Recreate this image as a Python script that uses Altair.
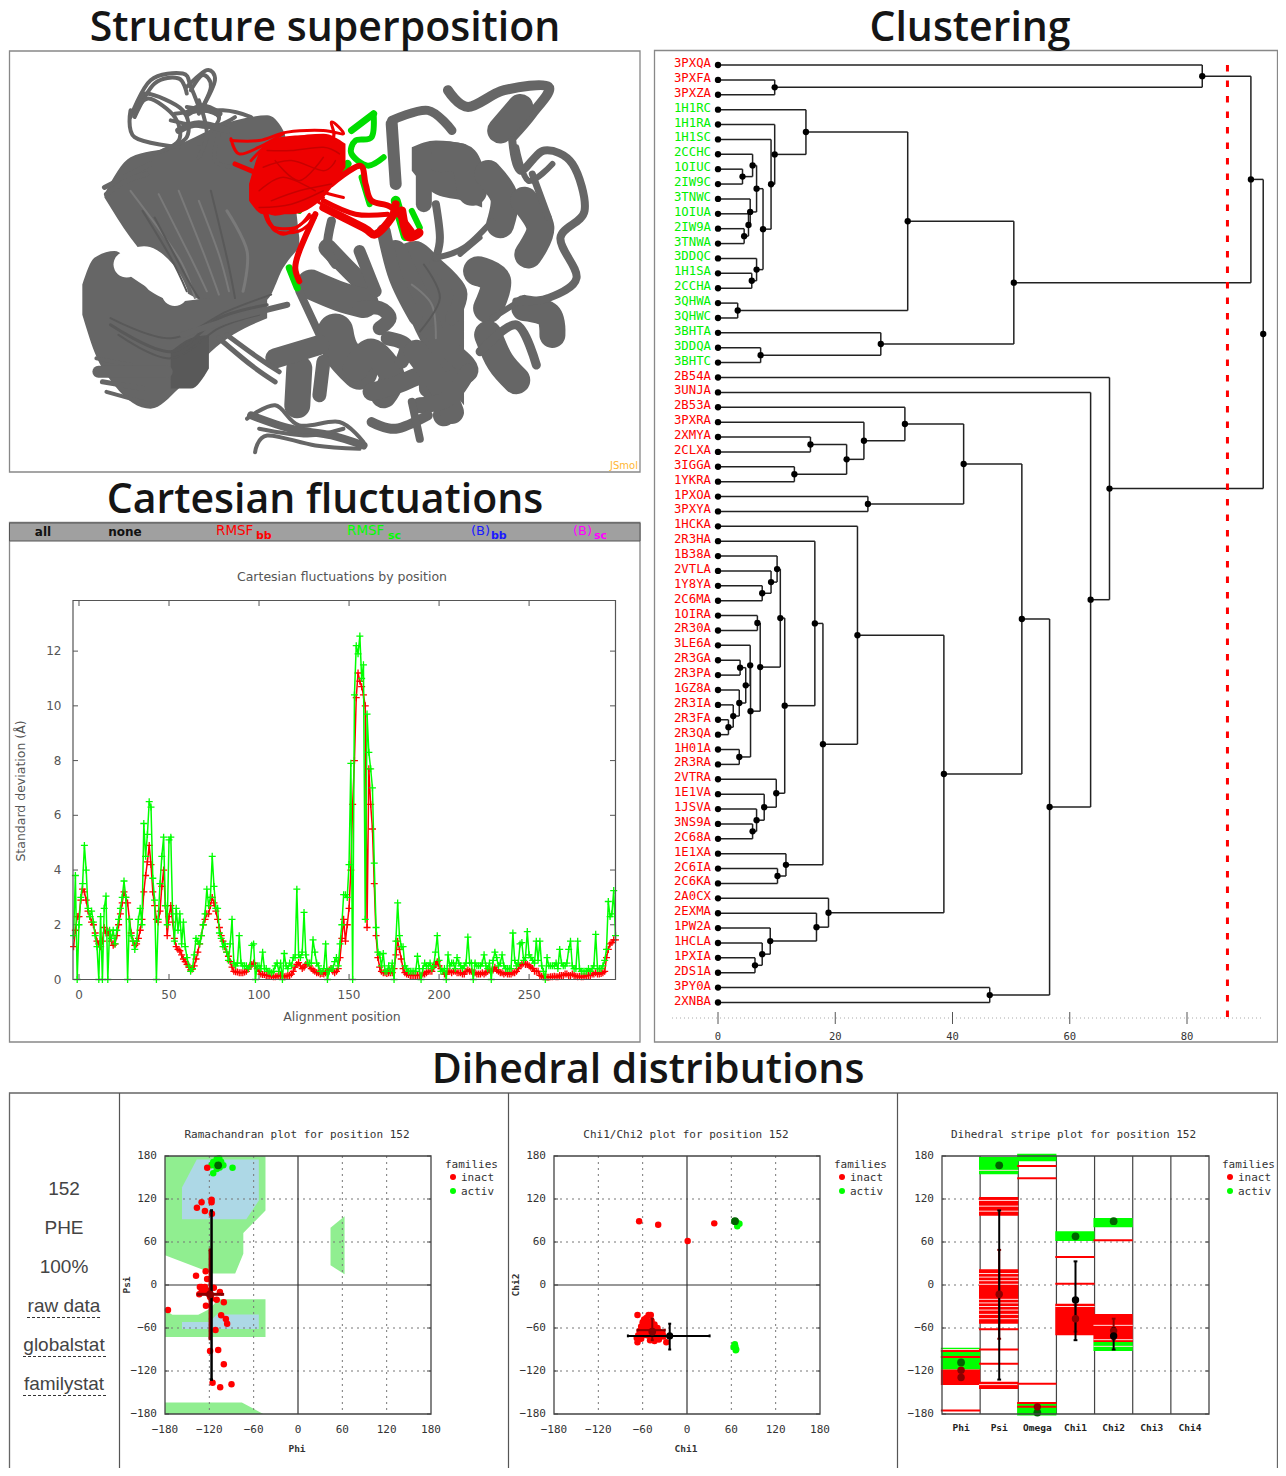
import altair as alt
import pandas as pd

CW, CH = 1270, 1460
RIGHT = CW + 7.5
MONO = "DejaVu Sans Mono"
RED, GREEN = "#ff0000", "#00ff00"

# ---------- fluctuation series (positions -3 .. 298) ----------
pos_start = -3
rmsf_bb = [
 1.2,1.8,2.3,2.3,2.9,3.3,3.2,2.9,2.5,2.3,
 2.1,2.0,1.7,1.4,1.3,1.2,1.4,1.9,1.7,1.75,
 1.6,1.4,1.25,1.3,1.6,2.0,2.4,2.8,3.2,3.0,
 2.8,2.2,1.7,1.4,1.25,1.3,1.5,1.8,2.2,3.2,
 3.8,4.3,4.9,4.2,3.2,2.7,2.2,2.1,2.5,3.4,
 4.0,2.7,1.6,2.3,2.7,2.1,1.5,1.2,1.1,1.05,
 .9,.75,.65,.55,.45,.35,.38,.5,.75,1.0,
 1.3,1.6,2.0,2.2,2.4,2.4,2.7,3.0,2.8,2.5,
 2.2,1.9,1.6,1.4,1.2,1.0,.85,.65,.45,.3,
 .28,.27,.25,.25,.25,.27,.3,.38,.5,.55,
 .6,.5,.4,.3,.2,.18,.18,.15,.15,.12,
 .12,.1,.1,.12,.15,.15,.13,.1,.12,.15,
 .15,.2,.3,.45,.55,.62,.5,.4,.45,.55,
 .6,.5,.4,.35,.3,.25,.25,.2,.22,.2,
 .25,.3,.35,.4,.3,.25,.3,.4,.8,1.5,
 2.2,1.4,2.0,2.6,4.0,6.4,8.0,10.3,11.2,10.9,
 10.7,10.4,10.0,1.9,7.7,6.4,5.5,3.5,1.6,.8,
 .45,.3,.25,.25,.22,.25,.25,.25,.4,.9,
 1.4,1.1,.75,.4,.25,.2,.18,.15,.15,.15,
 .15,.15,.15,.15,.2,.2,.25,.3,.3,.3,
 .45,.55,.65,.5,.4,.3,.2,.2,.3,.3,
 .25,.3,.3,.25,.25,.25,.2,.2,.3,.35,
 .3,.3,.25,.25,.2,.2,.2,.25,.2,.25,
 .3,.35,.3,.35,.45,.35,.3,.25,.25,.2,
 .25,.2,.2,.2,.25,.25,.3,.4,.5,.55,
 .6,.55,.55,.5,.45,.4,.3,.3,.3,.15,
 .12,.1,.1,.08,.08,.1,.1,.12,.1,.1,
 .15,.15,.15,.2,.2,.15,.15,.2,.15,.12,
 .1,.12,.1,.1,.12,.15,.15,.15,.2,.2,
 .25,.2,.2,.22,.25,.3,.8,1.1,1.3,1.35,
 1.45,1.45]
rmsf_sc = [
 1.6,3.8,0,2.0,3.0,3.5,4.9,4.0,2.6,2.3,
 2.5,2.1,1.6,1.2,0,2.3,0,2.6,3.05,0,
 1.8,1.5,1.8,1.3,1.8,2.2,2.6,3.0,3.6,3.0,
 0,2.2,1.6,1.4,1.1,1.4,2.2,2.6,2.0,5.7,
 4.5,5.3,6.5,6.3,3.7,2.9,0,2.2,3.5,4.5,
 5.2,2.7,2.0,5.1,5.2,2.4,1.4,2.6,1.8,2.4,
 1.3,2.1,1.2,.8,.5,.3,.4,.9,1.5,1.4,
 1.3,1.6,2.0,2.4,3.3,2.7,3.0,4.5,3.4,2.6,
 2.6,1.7,1.5,1.2,1.3,1.0,.7,1.3,2.2,.6,
 .5,.6,1.6,.6,.5,.5,.5,.4,.5,1.25,
 1.3,0,.5,.5,.4,1.0,.4,.4,.3,.3,
 .25,.3,.5,.6,.3,.6,0,.95,.5,.4,
 .6,.5,.8,.8,3.3,.9,.8,1.0,2.45,.9,
 .6,.6,.6,1.45,1.0,.6,.5,.3,.3,.4,
 1.3,0,.3,.4,.4,.65,.8,.5,1.3,2.0,
 3.1,3.1,3.0,4.2,7.9,0,10.4,12.2,11.9,12.55,
 11.0,11.5,2.2,9.7,8.3,7.7,7.0,4.25,1.9,1.0,
 .9,.5,.95,.3,.3,.5,.3,.6,0,1.4,
 2.8,1.6,1.2,1.2,.5,.4,.3,.3,.3,.3,
 .3,.85,.4,0,.4,.6,.5,.5,.6,.4,
 .5,1.0,1.6,.7,.3,.3,.4,0,.9,.5,
 .6,.6,.4,.8,.6,.5,.4,.5,.6,1.55,
 .6,.6,0,.6,.5,.5,.5,.6,.9,.5,
 .4,.6,0,.7,1.0,.8,.5,.6,.9,.5,
 .4,.4,.4,.4,1.7,.7,.5,.6,1.3,1.35,
 .7,.8,1.75,.9,.8,.7,.6,1.4,.7,1.4,
 .5,.3,0,.8,.5,.5,.5,.5,.6,.4,
 1.1,.6,.5,.5,.6,1.1,1.4,.5,.4,.4,
 1.4,.4,.3,.3,.3,.3,.4,.3,.4,.5,
 1.65,.4,.4,.4,.5,.7,1.1,2.85,2.3,2.4,
 3.25,1.6]
fluct_xticks = [0, 50, 100, 150, 200, 250]
fluct_yticks = [0, 2, 4, 6, 8, 10, 12]

# ---------- dendrogram: (merge height, child, child) ----------
tree = (93.0,
 (90.9,
  (82.6, "3PXQA", (9.67, "3PXFA", "3PXZA")),
  (50.46,
   (32.36,
    (15.0, "1H1RC", (9.67, "1H1RA", (9.05, "1H1SC", (7.68,
       (6.58, (5.9, "2CCHC", (4.18, "1OIUC", "2IW9C")),
              (5.49, "3TNWC", (5.2, "1OIUA", (4.46, "2IW9A", "3TNWA")))),
       (6.58, "3DDQC", (5.76, "1H1SA", "2CCHA")))))),
    (3.36, "3QHWA", "3QHWC")),
   (27.77, "3BHTA", (7.27, "3DDQA", "3BHTC")))),
 (66.78, "2B54A", (63.56, "3UNJA", (56.56,
   (51.83,
    (41.9,
     (31.88, "2B53A", (24.89, "3PXRA", (21.94, (15.77, "2XMYA", "2CLXA"), (13.03, "3IGGA", "1YKRA")))),
     (25.57, "1PXOA", "3PXYA")),
    (38.53,
     (23.79, "1HCKA", (17.9,
       (16.52, "2R3HA", (11.38,
         (10.63,
          (10.08, "1B38A", (9.05, "2VTLA", (7.54, "1Y8YA", "2C6MA"))),
          (7.2, (6.72, "1OIRA", "2R30A"),
           (5.55, (5.49, "3LE6A", (4.73, (3.77, "2R3GA", "2R3PA"),
                                   (3.63, "1GZ8A", (2.6, "2R3IA", (1.78, "2R3FA", "2R3QA"))))),
                  (3.63, "1H01A", "2R3RA")))),
         (9.94, "2VTRA", (7.88, "1E1VA", (6.58, "1JSVA", (5.9, "3NS9A", "2C68A")))))),
       (11.59, "1E1XA", (10.15, "2C6IA", "2C6KA")))),
     (18.85, "2A0CX", (16.8, "2EXMA", (8.91, "1PW2A", (7.54, "1HCLA", (6.31, "1PXIA", "2DS1A"))))))),
   (46.35, "3PY0A", "2XNBA")))))
green_leaves = ["1H1RC","1H1RA","1H1SC","2CCHC","1OIUC","2IW9C","3TNWC","1OIUA","2IW9A","3TNWA",
                "3DDQC","1H1SA","2CCHA","3QHWA","3QHWC","3BHTA","3DDQA","3BHTC"]
cut_height = 86.9
dendro_ticks = [0, 20, 40, 60, 80]

# ---------- Ramachandran ----------
ram_inact_phi = [-122.9,-130.5,-136.8,-126,-117,-117,-116.5,-138,-125,-123,-130.5,-132.8,-126,-113.9,-133.6,-130.5,-123.8,-121.5,-119,-117,-110,-105.7,-100.4,-124.6,-176,-104,-97.6,-95.9,-111.6,-119,-108,-100.4,-115.6,-105.3,-90]
ram_inact_psi = [163.7,115.4,107.9,103.3,119.1,115.4,99.5,13,19.1,8.4,-2.8,-2.8,-2.8,-3.7,-13,-9.8,-7.4,-12,-16.7,-19,-20.5,-9.8,-24.2,-28.8,-34.9,-42.3,-47.4,-54,-62.8,-92,-90.7,-110.7,-136.3,-142.8,-138.6]
ram_activ_phi = [-108,-114.75,-110,-106.6,-101,-88.6,-114.75,-117,-112.5,-104,-110,-106]
ram_activ_psi = [167,171.6,176,177,167,163.7,156,167,167,172,162,164]
ram_green = [
 ([-180,-115,-85,-74,-74,-44], [41.4,16,16,43.7,72.6,104], [180,180,180,180,180,180]),
 ([44,63], [27.4,15], [80,96]),
 ([-180,-170,-135,-119,-108,-44], [-72.6]*6, [-35,-41.4,-41.4,-33,-20,-20]),
 ([-180,-76,-47], [-180,-180,-180], [-164,-164,-180]),
]
ram_blue = [
 ([-157,-137,-70,-53], [91.6,91.6,91.6,118], [136,175,175,175]),
 ([-157,-120,-110,-53], [-61.4]*4, [-51.6,-51.6,-41,-41]),
]
# ---------- Chi1/Chi2 ----------
chi_inact_1 = [-64.8,-39,36.9,0.9,-67,-52,-49,-55,-58,-60,-54,-48,-44,-62,-56,-50,-40,-64,-57,-51,-45,-38,-33,-66,-60,-54,-48,-43,-37,-32,-68,-62,-50,-44,-38,-67,-28]
chi_inact_2 = [88.8,84.2,86,61.4,-42,-42,-42,-46,-48,-52,-52,-50,-55,-58,-58,-57,-60,-64,-64,-63,-62,-65,-68,-70,-70,-70,-71,-70,-72,-72,-74,-75,-77,-78,-76,-80,-80]
chi_activ_1 = [64.4,71,68,66.6,69,64.8,66.6,63,65.5,66]
chi_activ_2 = [89.3,85.6,82,88,86,-82.8,-90,-86.5,-86,-91]
angle_ticks = [-180,-120,-60,0,60,120,180]
# ---------- Stripe plot ----------
stripe_cols = ["Phi","Psi","Omega","Chi1","Chi2","Chi3","Chi4"]
stripe_green_rect = [(0,-118,-87.4),(1,154.4,178.6),(2,172.6,183),(2,-182,-165.6),(3,61.4,75),(4,80.5,93.5),(4,-92,-79.5)]
stripe_red_rect = [(0,-139.5,-118),(1,96.7,122.8),(1,-54,22),(1,-145,-135),(3,-70,-26),(4,-79.5,-40.5)]
stripe_red_rule = [(0,-92),(0,-100.4),(0,-175),(1,-61.8),(1,-90),(1,-109.8),(2,166),(2,148.8),(2,-137.7),(2,-164.6),(2,-170),(3,39),(3,1.9),(4,62.3)]
stripe_white_rule = [(0,-90),(1,160),(1,118),(1,110),(1,103),(1,16),(1,11),(1,6),(1,1),(1,-20),(1,-25),(1,-30),(1,-35),(1,-41),(1,-47),(1,-139),(3,-30),(4,-56.3),(4,-76.3),(4,-85.6)]
stripe_dark_green = [(0,-108),(1,167),(2,-178),(3,68),(4,89)]
stripe_dark_red = [(0,-119),(0,-129),(1,-13),(2,-170),(3,-47),(4,-64)]
stripe_black = [(3,-21),(4,-71)]
# mean +- spread: (x, ylow, yhigh)
stripe_err_black = [(1,-132,104),(3,-77,33),(4,-90,-60)]
stripe_err_red = [(1,-75,49),(3,-65,-28),(4,-76,-47)]

# ---------- Structure traces (in picture units) ----------
GR, GD, GL = "#666666", "#595959", "#7a7a7a"
struct_areas = [
 (GR, [235,300,400,560,640,680,720], [430,320,290,210,195,240,560], [440,560,690,770,745,650,590]),
 (GR, [180,210,260,350,420,500,640], [700,620,600,720,750,740,740], [790,900,1000,1070,1010,900,800]),
 (GD, [400,450,495], [900,860,850], [1010,1010,950]),
 (GR, [960,1010,1090,1130], [590,570,650,700], [700,840,1000,1060]),
 (GR, [1000,1060,1130,1175], [290,270,280,360], [360,430,450,470]),
]
struct_paths = [
 ("#ffffff", 26, [(290,640),(340,625),(385,670),(410,725)]),
 ("#ffffff", 14, [(300,650),(350,690),(400,720)]),
 (GL, 2, [(300,420),(420,620),(460,740)]),
 (GL, 2, [(420,420),(480,600),(520,730)]),
 (GL, 3, [(540,480),(590,600),(580,720)]),
 (GL, 2, [(370,430),(450,620),(490,720)]),
 (GL, 2, [(470,450),(520,610),(545,720)]),
 (GD, 2, [(360,500),(440,680),(470,740)]),
 (GD, 2, [(500,420),(540,620),(560,740)]),
 (GD, 2, [(330,480),(400,620),(440,720)]),
 (GD, 3, [(250,820),(400,900),(520,800),(640,760)]),
 (GD, 2, [(250,800),(400,860),(540,780),(650,730)]),
 (GD, 2, [(270,850),(400,920),(520,830),(620,790)]),
 (GR, 4, [(300,200),(350,90),(430,70),(450,110),(470,170)]),
 (GR, 4, [(310,200),(360,100),(420,85),(440,130)]),
 (GR, 4, [(440,110),(490,60),(510,90),(480,170)]),
 (GR, 4, [(450,120),(480,75),(500,110),(470,190)]),
 (GR, 4, [(320,170),(340,130),(430,180),(440,260),(380,300)]),
 (GR, 4, [(310,190),(345,145),(410,200),(420,270),(360,310)]),
 (GR, 4, [(300,180),(310,260),(420,290)]),
 (GR, 4, [(410,190),(530,180),(600,200)]),
 (GR, 4, [(470,150),(490,250),(470,320)]),
 (GR, 4, [(520,250),(510,330),(560,350)]),
 (GR, 4, [(440,170),(520,200),(470,280)]),
 (GR, 4, [(400,210),(500,230),(560,200)]),
 (GR, 7, [(420,240),(470,220),(540,240)]),
 (GR, 7, [(440,190),(480,170),(520,190)]),
 (GR, 5, [(235,410),(300,370),(350,340)]),
 (GR, 5, [(240,430),(290,390),(340,370)]),
 (GR, 4, [(215,920),(300,940)]),
 (GR, 5, [(230,990),(330,1010)]),
 (GR, 4, [(240,1020),(360,1060)]),
 (GR, 12, [(220,960),(300,960),(390,960)]),
 (GR, 18, [(790,590),(830,640),(880,700)]),
 (GR, 9, [(800,510),(790,590),(810,640)]),
 (GR, 30, [(750,700),(820,735),(880,755)]),
 (GR, 12, [(870,600),(890,660),(910,720)]),
 (GR, 8, [(720,720),(790,900)]),
 (GR, 36, [(810,840),(825,900),(870,960)]),
 (GR, 14, [(870,770),(920,770),(945,800),(920,830)]),
 (GR, 26, [(860,950),(900,900),(950,970),(930,1030)]),
 (GR, 14, [(940,860),(985,880),(975,930)]),
 (GR, 18, [(900,1020),(960,1000),(1030,970),(1040,1010)]),
 (GR, 22, [(960,600),(1000,700),(1040,800),(1060,900),(1090,1000),(1080,1090)]),
 (GR, 14, [(930,540),(960,680),(1010,800)]),
 (GR, 14, [(1060,640),(1120,720),(1100,800)]),
 (GR, 20, [(1060,850),(1100,900),(1140,960),(1060,1000)]),
 (GR, 24, [(1010,900),(1070,1000),(1100,1080)]),
 (GR, 16, [(1020,1060),(1090,1040),(1140,960)]),
 (GL, 2, [(1000,700),(1050,760),(1060,860)]),
 (GD, 2, [(1030,640),(1070,740),(1020,840)]),
 (GR, 30, [(1165,660),(1210,690),(1190,770)]),
 (GR, 28, [(1190,850),(1220,930),(1260,985)]),
 (GR, 9, [(1170,900),(1260,820),(1310,940)]),
 (GR, 26, [(1280,770),(1340,790),(1350,850)]),
 (GR, 6, [(1200,800),(1280,740)]),
 (GR, 30, [(1070,320),(1130,330),(1150,420)]),
 (GR, 28, [(1190,370),(1230,440),(1220,520)]),
 (GR, 28, [(1280,450),(1320,530),(1290,610)]),
 (GR, 9, [(950,210),(1040,180),(1100,240)]),
 (GR, 12, [(950,220),(960,400)]),
 (GR, 16, [(1030,310),(1030,460)]),
 (GR, 8, [(1060,460),(1070,560),(1060,620)]),
 (GR, 10, [(1090,120),(1140,170),(1230,120),(1340,110),(1300,190),(1250,260)]),
 (GR, 26, [(1220,240),(1270,170)]),
 (GR, 8, [(1250,270),(1270,360),(1330,300),(1400,340),(1430,480),(1370,560),(1410,680),(1340,740),(1260,750)]),
 (GR, 6, [(1260,290),(1290,390),(1350,340)]),
 (GR, 7, [(1300,370),(1340,500)]),
 (GR, 6, [(1060,620),(1130,590),(1200,510)]),
 (GR, 5, [(1120,610),(1170,560)]),
 (GR, 8, [(600,1090),(700,1130),(800,1150),(880,1180)]),
 (GR, 4, [(610,1200),(640,1150),(760,1180),(870,1190)]),
 (GR, 4, [(590,1100),(660,1060),(720,1120),(820,1110),(880,1170)]),
 (GR, 4, [(620,1130),(740,1150),(830,1130)]),
 (GR, 26, [(715,1060),(720,950)]),
 (GR, 14, [(770,1030),(780,930)]),
 (GR, 20, [(770,880),(660,920)]),
 (GR, 5, [(520,860),(600,940),(660,990)]),
 (GR, 5, [(540,850),(620,920),(670,960)]),
 (GR, 10, [(900,1110),(960,1130),(1040,1090)]),
 (GR, 8, [(1000,1050),(1020,1160)]),
 (GR, 6, [(690,760),(560,800),(430,850)]),
 ("#00dd00", 7, [(850,240),(905,190)]),
 ("#00dd00", 6, [(905,190),(900,260),(860,270),(850,310),(890,345),(930,320)]),
 ("#00dd00", 8, [(800,390),(840,340)]),
 ("#00dd00", 6, [(875,380),(895,460)]),
 ("#00dd00", 6, [(720,480),(735,460)]),
 ("#00dd00", 10, [(960,450),(985,555)]),
 ("#00dd00", 6, [(1000,480),(1020,530)]),
 ("#00dd00", 7, [(695,650),(715,710)]),
]
struct_red_areas = [
 ("#ee0000", [595,630,700,780,835], [400,290,260,250,280], [450,490,490,440,350]),
]
struct_red_paths = [
 (3, [(550,270),(620,270),(690,245),(780,240),(830,250),(800,215),(800,270),(700,320)]),
 (3, [(550,265),(570,310),(620,290),(680,250)]),
 (3, [(640,490),(660,540),(720,540),(760,500)]),
 (3, [(640,500),(680,550),(750,495)]),
 (3, [(630,470),(650,525),(710,530),(745,490)]),
 (8, [(780,470),(880,530),(910,550),(950,500),(960,460)]),
 (6, [(800,400),(870,345),(885,400),(900,450),(950,470),(1000,540)]),
 (6, [(760,490),(720,600),(710,650),(720,690)]),
 (5, [(560,340),(640,380)]),
 (9, [(975,480),(990,555),(1018,545)]),
 (3, [(600,400),(640,470),(700,420),(790,470)]),
 (3, [(620,330),(720,400),(830,440)]),
 (5, [(780,450),(860,490),(940,490)]),
 (3, [(600,330),(660,270),(760,260),(825,280)]),
 (3, [(610,440),(660,490),(780,440)]),
 ("d", [(630,350),(700,330),(780,360),(810,330)]),
 ("d", [(620,420),(680,380),(760,420)]),
 ("d", [(650,450),(720,420),(800,400)]),
 ("d", [(660,330),(720,390),(780,320)]),
 ("d", [(640,300),(700,300),(780,290),(820,310)]),
 ("d", [(620,470),(700,460),(780,420)]),
]

# ---------- helpers ----------
blank = alt.Data(values=[{"a": 1}])
def P(v):
    return v - 8

def text(s, x, y, size, color="#000000", font="DejaVu Sans", align="center", weight="normal", angle=0, base="alphabetic"):
    return alt.Chart(blank).mark_text(text=s, font=font, fontSize=size, color=color, align=align,
                                      baseline=base, fontWeight=weight, angle=angle).encode(
        x=alt.value(P(x)), y=alt.value(P(y)))

def box(x1, y1, x2, y2, stroke="#666666", sw=1.3, fill=None):
    kw = dict(fill=fill) if fill else dict(fillOpacity=0)
    kw.update(stroke=stroke, strokeWidth=sw)
    return alt.Chart(blank).mark_rect(**kw).encode(
        x=alt.value(P(x1)), x2=alt.value(P(x2)), y=alt.value(P(y1)), y2=alt.value(P(y2)))

def hline(x1, x2, y, color="#000000", sw=1, dash=None):
    kw = dict(strokeDash=dash) if dash else {}
    return alt.Chart(blank).mark_rule(color=color, strokeWidth=sw, **kw).encode(
        x=alt.value(P(x1)), x2=alt.value(P(x2)), y=alt.value(P(y)))

def vline(x, y1, y2, color="#000000", sw=1):
    return alt.Chart(blank).mark_rule(color=color, strokeWidth=sw).encode(
        x=alt.value(P(x)), y=alt.value(P(y1)), y2=alt.value(P(y2)))

def lin(dom, rng):
    return alt.Scale(domain=dom, range=rng, nice=False, zero=False, clamp=False)

def X(f, sc):
    return alt.X(f + ":Q", scale=sc, axis=None, title=None)

def Y(f, sc):
    return alt.Y(f + ":Q", scale=sc, axis=None, title=None)

def fmt(v):
    return str(v).replace("-", "\u2212")

def xlabels(vals, sc, y_px, font, size, color):
    df = pd.DataFrame({"v": vals, "t": [fmt(v) for v in vals]})
    return alt.Chart(df).mark_text(font=font, fontSize=size, color=color, baseline="alphabetic").encode(
        x=X("v", sc), y=alt.value(P(y_px)), text="t:N")

def ylabels(vals, sc, x_px, font, size, color):
    df = pd.DataFrame({"v": vals, "t": [fmt(v) for v in vals]})
    return alt.Chart(df).mark_text(font=font, fontSize=size, color=color, baseline="middle", align="right").encode(
        y=Y("v", sc), x=alt.value(P(x_px)), text="t:N")

# ---------- page furniture ----------
page = [
    box(9.5, 51, 640, 472, "#888888"),
    box(9.5, 522.5, 640, 1042, "#888888"),
    box(9.5, 523, 640, 541, "#555555", 1, "#a0a0a0"),
    box(654.5, 50.5, RIGHT, 1042, "#888888"),
    box(9.5, 1093, RIGHT, CH + 40, "#666666"),
    vline(119.5, 1093, CH + 8, "#555555", 1.2),
    vline(508.5, 1093, CH + 8, "#555555", 1.2),
    vline(897.5, 1093, CH + 8, "#555555", 1.2),
]
TF = dict(size=41, font="Open Sans", weight=600, color="#151515")
page += [
    text("Structure superposition", 325, 41, **TF),
    text("Cartesian fluctuations", 325, 513, **TF),
    text("Clustering", 970, 41, **TF),
    text("Dihedral distributions", 648, 1083, **TF),
]
page += [
    text("all", 43, 536, 12, "#111111", weight=600),
    text("none", 125, 536, 12, "#111111", weight=600),
    text("RMSF", 216, 535, 13.5, RED, align="left"),
    text("bb", 256, 539, 11, RED, align="left", weight="bold"),
    text("RMSF", 347, 535, 13.5, GREEN, align="left"),
    text("sc", 388, 539, 11, GREEN, align="left", weight="bold"),
    text("(B)", 471, 535, 13, "#1a1aff", align="left"),
    text("bb", 491, 539, 11, "#1a1aff", align="left", weight="bold"),
    text("(B)", 573, 535, 13, "#ff00ff", align="left"),
    text("sc", 594, 539, 11, "#ff00ff", align="left", weight="bold"),
    text("JSmol", 638, 469, 10, "#ffb733", align="right"),
    text("Cartesian fluctuations by position", 342, 581, 12.5, "#555555"),
    text("Alignment position", 342, 1021, 12.5, "#555555"),
    text("Standard deviation (Å)", 25, 791, 12.5, "#555555", angle=270),
]
side = [("152", 1195), ("PHE", 1234), ("100%", 1273), ("raw data", 1312), ("globalstat", 1351), ("familystat", 1390)]
page += [text(s, 64, y, 19, "#444444", font="Liberation Sans") for s, y in side]
page += [hline(27, 102, 1317.5, "#333333", 1, [3, 2]), hline(23, 106, 1356.5, "#333333", 1, [3, 2]),
         hline(23, 106, 1395.5, "#333333", 1, [3, 2])]

# ---------- structure panel ----------
sx = lin([0, 1568], [P(10), P(640)])
sy = lin([0, 1268], [P(50), P(475)])
st_layers = []
def st_line(color, w, pts):
    df = pd.DataFrame({"x": [p[0] for p in pts], "y": [p[1] for p in pts], "i": range(len(pts))})
    return alt.Chart(df).mark_line(color=color, strokeWidth=w, strokeCap="round", strokeJoin="round",
                                   interpolate="cardinal").encode(x=X("x", sx), y=Y("y", sy), order="i:Q")
def st_area(color, xs, y1, y2):
    df = pd.DataFrame({"x": xs, "y": y1, "y2": y2})
    return alt.Chart(df).mark_area(color=color, interpolate="monotone").encode(
        x=X("x", sx), y=Y("y", sy), y2="y2:Q")
for c, xs, a, b in struct_areas:
    st_layers.append(st_area(c, xs, a, b))
for c, w, pts in struct_paths:
    st_layers.append(st_line(c, w, pts))
for c, xs, a, b in struct_red_areas:
    st_layers.append(st_area(c, xs, a, b))
for w, pts in struct_red_paths:
    if w == "d":
        st_layers.append(st_line("#c80000", 1.5, pts))
    else:
        st_layers.append(st_line("#ee0000", w, pts))
structure = alt.layer(*st_layers)

# ---------- fluctuation panel ----------
fx = lin([-3.33, 298], [P(73), P(615.5)])
fy = lin([0, 13.85], [P(979.5), P(600.5)])
fl_df = pd.DataFrame({"p": list(range(pos_start, pos_start + len(rmsf_bb))), "bb": rmsf_bb, "sc": rmsf_sc})
PLUS = "M-1,0L1,0M0,-1L0,1"
xt = pd.DataFrame({"v": fluct_xticks})
yt = pd.DataFrame({"v": fluct_yticks})
fluct = alt.layer(
    alt.Chart(xt).mark_rule(color="#555555").encode(x=X("v", fx), y=alt.value(P(979.5)), y2=alt.value(P(974))),
    alt.Chart(xt).mark_rule(color="#555555").encode(x=X("v", fx), y=alt.value(P(600.5)), y2=alt.value(P(606))),
    alt.Chart(yt).mark_rule(color="#555555").encode(y=Y("v", fy), x=alt.value(P(73)), x2=alt.value(P(78))),
    alt.Chart(yt).mark_rule(color="#555555").encode(y=Y("v", fy), x=alt.value(P(610)), x2=alt.value(P(615.5))),
    xlabels(fluct_xticks, fx, 999, "DejaVu Sans", 12, "#555555"),
    ylabels(fluct_yticks, fy, 61.5, "DejaVu Sans", 12, "#555555"),
    alt.Chart(fl_df).mark_line(color=RED, strokeWidth=1.5).encode(x=X("p", fx), y=Y("bb", fy)),
    alt.Chart(fl_df).mark_point(shape=PLUS, size=49, color=RED, filled=False, strokeWidth=1.3, opacity=1).encode(x=X("p", fx), y=Y("bb", fy)),
    alt.Chart(fl_df).mark_line(color=GREEN, strokeWidth=1.5).encode(x=X("p", fx), y=Y("sc", fy)),
    alt.Chart(fl_df).mark_point(shape=PLUS, size=49, color=GREEN, filled=False, strokeWidth=1.3, opacity=1).encode(x=X("p", fx), y=Y("sc", fy)),
)
fluct_frame = box(73, 600.5, 615.5, 979.5, "#555555", 1.2)

# ---------- dendrogram ----------
leaves = []
def collect(n):
    if isinstance(n, str):
        leaves.append(n)
    else:
        collect(n[1]); collect(n[2])
collect(tree)
seg, dots = [], []
def layout(n):
    if isinstance(n, str):
        i = leaves.index(n)
        dots.append({"h": 0, "i": i})
        return 0, i
    h, a, b = n
    ha, ya = layout(a)
    hb, yb = layout(b)
    seg.append({"x": ha, "x2": h, "y": ya, "y2": ya})
    seg.append({"x": hb, "x2": h, "y": yb, "y2": yb})
    seg.append({"x": h, "x2": h, "y": ya, "y2": yb})
    y = (ya + yb) / 2
    dots.append({"h": h, "i": y})
    return h, y
layout(tree)
dx = lin([0, 80], [P(718), P(1187)])
dy = lin([0, 63], [P(65), P(1002.5)])
leaf_df = pd.DataFrame({"h": [0] * len(leaves), "i": list(range(len(leaves))), "name": leaves,
                        "grp": ["g" if n in green_leaves else "r" for n in leaves]})
tick_df = pd.DataFrame({"v": dendro_ticks})
cut_df = pd.DataFrame({"v": [cut_height], "a": [0], "b": [64.05]})
def leaf_text(g, c):
    return alt.Chart(leaf_df[leaf_df.grp == g]).mark_text(font=MONO, fontSize=12.3, color=c, align="right", baseline="middle", dx=-7, dy=-2).encode(
        x=X("h", dx), y=Y("i", dy), text="name:N")
dendro = alt.layer(
    hline(672, 1264, 1018, "#aaaaaa", 1, [1, 3]),
    alt.Chart(tick_df).mark_rule(color="#555555").encode(x=X("v", dx), y=alt.value(P(1012)), y2=alt.value(P(1024))),
    xlabels(dendro_ticks, dx, 1040, MONO, 10.5, "#333333"),
    alt.Chart(pd.DataFrame(seg)).mark_rule(color="#222222", strokeWidth=1.5).encode(
        x=X("x", dx), x2="x2:Q", y=Y("y", dy), y2="y2:Q"),
    alt.Chart(pd.DataFrame(dots)).mark_circle(color="#000000", size=40, opacity=1).encode(x=X("h", dx), y=Y("i", dy)),
    alt.Chart(cut_df).mark_rule(color=RED, strokeWidth=3, strokeDash=[6.5, 9]).encode(x=X("v", dx), y=Y("a", dy), y2="b:Q"),
    leaf_text("r", RED),
    leaf_text("g", "#00f000"),
)

# ---------- angle plots ----------
def ang_grid(sx_, sy_, x0, x1, y0, y1, vertical=True):
    vals = pd.DataFrame({"v": [-120, -60, 60, 120]})
    all_vals = pd.DataFrame({"v": angle_ticks})
    ls = []
    if vertical:
        ls.append(alt.Chart(vals).mark_rule(color="#777777", strokeDash=[2, 4]).encode(
            x=X("v", sx_), y=alt.value(P(y1)), y2=alt.value(P(y0))))
    ls.append(alt.Chart(vals).mark_rule(color="#777777", strokeDash=[2, 4]).encode(
        y=Y("v", sy_), x=alt.value(P(x0)), x2=alt.value(P(x1))))
    ls.append(alt.Chart(all_vals).mark_rule(color="#444444").encode(
        y=Y("v", sy_), x=alt.value(P(x0)), x2=alt.value(P(x0 + 4))))
    ls.append(alt.Chart(all_vals).mark_rule(color="#444444").encode(
        y=Y("v", sy_), x=alt.value(P(x1 - 4)), x2=alt.value(P(x1))))
    return ls

def zero_lines(sx_, sy_, x0, x1, y0, y1):
    z = pd.DataFrame({"v": [0]})
    return [alt.Chart(z).mark_rule(color="#333333", strokeWidth=1.2).encode(x=X("v", sx_), y=alt.value(P(y1)), y2=alt.value(P(y0))),
            alt.Chart(z).mark_rule(color="#333333", strokeWidth=1.2).encode(y=Y("v", sy_), x=alt.value(P(x0)), x2=alt.value(P(x1)))]

def axes(sx_, sy_, y0, x0):
    return [xlabels(angle_ticks, sx_, 1433, MONO, 11, "#333333"),
            ylabels(angle_ticks, sy_, x0 - 8, MONO, 11, "#333333")]

def scatter(xs, ys, sx_, sy_, color, size=42):
    return alt.Chart(pd.DataFrame({"x": xs, "y": ys})).mark_circle(color=color, size=size, opacity=1).encode(
        x=X("x", sx_), y=Y("y", sy_))

def err(vert, horiz, sx_, sy_, color, w=2, capx=2.0, capy=2.0):
    rows = []
    for x, a, b in vert:
        rows.append({"x": x, "x2": x, "y": a, "y2": b})
        rows.append({"x": x - capx, "x2": x + capx, "y": a, "y2": a})
        rows.append({"x": x - capx, "x2": x + capx, "y": b, "y2": b})
    for y, a, b in horiz:
        rows.append({"x": a, "x2": b, "y": y, "y2": y})
        rows.append({"x": a, "x2": a, "y": y - capy, "y2": y + capy})
        rows.append({"x": b, "x2": b, "y": y - capy, "y2": y + capy})
    return alt.Chart(pd.DataFrame(rows)).mark_rule(color=color, strokeWidth=w).encode(
        x=X("x", sx_), x2="x2:Q", y=Y("y", sy_), y2="y2:Q")

def poly(xs, lo, hi, color, sx_, sy_):
    return alt.Chart(pd.DataFrame({"x": xs, "y": lo, "y2": hi})).mark_area(color=color, opacity=1).encode(
        x=X("x", sx_), y=Y("y", sy_), y2="y2:Q")

Y0, Y1 = 1414, 1156
# Ramachandran
rx = lin([-180, 180], [P(165), P(431)])
ry = lin([-180, 180], [P(Y0), P(Y1)])
ram_layers = axes(rx, ry, Y0, 165)
ram_layers += [poly(*g, "#90ee90", rx, ry) for g in ram_green]
ram_layers += [poly(*g, "#add8e6", rx, ry) for g in ram_blue]
ram_layers += ang_grid(rx, ry, 165, 431, Y0, Y1) + zero_lines(rx, ry, 165, 431, Y0, Y1)
ram_layers += [
    scatter(ram_activ_phi, ram_activ_psi, rx, ry, GREEN),
    scatter(ram_inact_phi, ram_inact_psi, rx, ry, RED),
    err([(-119, -75, 49)], [(-13, -135, -102)], rx, ry, "#8b0000", 3),
    err([(-117, -132, 104)], [], rx, ry, "#000000", 2.5),
    scatter([-108], [167], rx, ry, "#006400", 60),
    scatter([-119], [-13], rx, ry, "#8b0000", 60),
]
ram = alt.layer(*ram_layers)

# Chi
cx = lin([-180, 180], [P(554), P(820)])
cy = lin([-180, 180], [P(Y0), P(Y1)])
chi_layers = axes(cx, cy, Y0, 554)
chi_layers += ang_grid(cx, cy, 554, 820, Y0, Y1) + zero_lines(cx, cy, 554, 820, Y0, Y1)
chi_layers += [
    scatter(chi_activ_1, chi_activ_2, cx, cy, GREEN),
    scatter(chi_inact_1, chi_inact_2, cx, cy, RED),
    err([(-47, -77, -47)], [(-63, -67, -30)], cx, cy, "#8b0000", 2),
    err([(-23.4, -90, -54)], [(-71, -80, 30.6)], cx, cy, "#000000", 2),
    scatter([65], [89], cx, cy, "#006400", 60),
    scatter([-47], [-65], cx, cy, "#8b0000", 60),
    scatter([-23.4], [-71], cx, cy, "#000000", 50),
]
chi = alt.layer(*chi_layers)

# Stripes
tx = lin([-0.5, 6.5], [P(942), P(1209)])
ty = lin([-180, 180], [P(Y0), P(Y1)])
def srect(rows, color):
    df = pd.DataFrame([{"x": c - 0.53, "x2": c + 0.5, "y": a, "y2": b} for c, a, b in rows])
    return alt.Chart(df).mark_rect(color=color, opacity=1).encode(x=X("x", tx), x2="x2:Q", y=Y("y", ty), y2="y2:Q")
def srule(rows, color, w):
    df = pd.DataFrame([{"x": c - 0.53, "x2": c + 0.5, "y": v} for c, v in rows])
    return alt.Chart(df).mark_rule(color=color, strokeWidth=w).encode(x=X("x", tx), x2="x2:Q", y=Y("y", ty))
def sdots(rows, color, size):
    df = pd.DataFrame([{"x": c, "y": v} for c, v in rows])
    return alt.Chart(df).mark_circle(color=color, size=size, opacity=1).encode(x=X("x", tx), y=Y("y", ty))
col_df = pd.DataFrame({"v": [0.5, 1.5, 2.5, 3.5, 4.5, 5.5]})
col_names = pd.DataFrame({"x": list(range(7)), "name": stripe_cols})
str_layers = [ylabels(angle_ticks, ty, 934, MONO, 11, "#333333")]
str_layers += ang_grid(tx, ty, 942, 1209, Y0, Y1, vertical=False)
str_layers += [alt.Chart(pd.DataFrame({"v": [0]})).mark_rule(color="#777777", strokeDash=[2, 4]).encode(
    y=Y("v", ty), x=alt.value(P(942)), x2=alt.value(P(1209)))]
str_layers += [
    alt.Chart(col_df).mark_rule(color="#444444", strokeWidth=1.2).encode(x=X("v", tx), y=alt.value(P(Y0)), y2=alt.value(P(Y1))),
    srect(stripe_green_rect, GREEN),
    srect(stripe_red_rect, RED),
    srule(stripe_white_rule, "#ffdddd", 1),
    srule(stripe_red_rule, RED, 2),
    err([(c, a, b) for c, a, b in stripe_err_red], [], tx, ty, "#8b0000", 2, capx=0.05),
    err([(c, a, b) for c, a, b in stripe_err_black], [], tx, ty, "#000000", 2, capx=0.05),
    sdots(stripe_dark_green, "#006400", 60),
    sdots(stripe_dark_red, "#8b0000", 55),
    sdots(stripe_black, "#000000", 55),
    alt.Chart(col_names).mark_text(font=MONO, fontSize=9.5, fontWeight="bold", color="#222222", baseline="alphabetic").encode(
        x=X("x", tx), y=alt.value(P(1431)), text="name:N"),
]
stripe = alt.layer(*str_layers)

# plot titles, frames and legends
small = []
for xoff, ttl, tc, xl, yl in [(0, "Ramachandran plot for position 152", 297, "Phi", "Psi"),
                              (389, "Chi1/Chi2 plot for position 152", 686, "Chi1", "Chi2"),
                              (777, "Dihedral stripe plot for position 152", 1073.5, "", "")]:
    small.append(text(ttl, tc, 1138, 11, "#333333", font=MONO))
    fam_x = 445 + xoff
    small.append(text("families", fam_x, 1168, 11, "#333333", font=MONO, align="left"))
    small.append(text("inact", fam_x + 16, 1181, 11, "#333333", font=MONO, align="left"))
    small.append(text("activ", fam_x + 16, 1195, 11, "#333333", font=MONO, align="left"))
    small.append(alt.Chart(blank).mark_circle(color=RED, size=36, opacity=1).encode(x=alt.value(P(fam_x + 8)), y=alt.value(P(1177))))
    small.append(alt.Chart(blank).mark_circle(color=GREEN, size=36, opacity=1).encode(x=alt.value(P(fam_x + 8)), y=alt.value(P(1191))))
    if xl:
        small.append(text(xl, tc, 1452, 9.5, "#333333", font=MONO, weight="bold"))
        small.append(text(yl, tc - 167, 1285, 9.5, "#333333", font=MONO, weight="bold", angle=270))
small += [box(165, Y1, 431, Y0, "#444444", 1.3), box(554, Y1, 820, Y0, "#444444", 1.3), box(942, Y1, 1209, Y0, "#444444", 1.3)]

chart = alt.layer(
    alt.layer(*page),
    structure,
    fluct,
    fluct_frame,
    dendro,
    ram,
    chi,
    stripe,
    alt.layer(*small),
).resolve_scale(x="independent", y="independent").properties(
    width=CW, height=CH, padding=0, autosize=alt.AutoSizeParams(type="none"), background="#ffffff"
).configure_view(stroke=None)

chart.save("out.html", embed_options={"renderer": "svg", "actions": False})
